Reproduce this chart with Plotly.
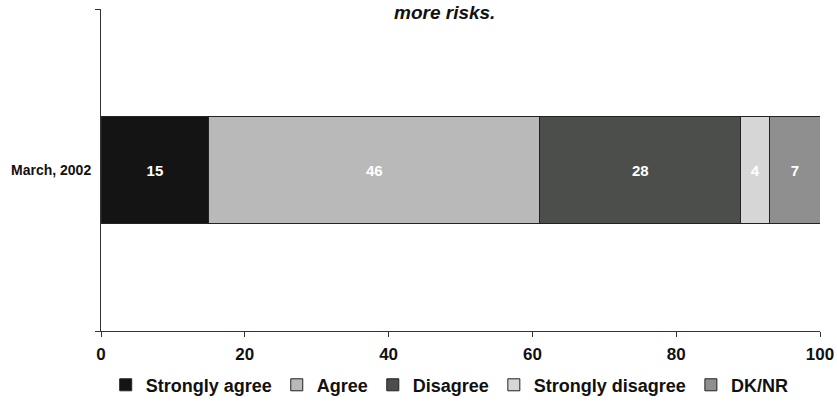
import plotly.graph_objects as go

categories = ["March, 2002"]
series_names = ["Strongly agree", "Agree", "Disagree", "Strongly disagree", "DK/NR"]
series_values = [[15], [46], [28], [4], [7]]
series_colors = ["#141414", "#b9b9b9", "#4b4e4b", "#d6d6d6", "#8f8f8f"]
x_ticks = [0, 20, 40, 60, 80, 100]
title_text = "more risks."

FONT = "Liberation Sans, Arial, sans-serif"

fig = go.Figure()
for name, vals, col in zip(series_names, series_values, series_colors):
    fig.add_trace(go.Bar(
        y=categories, x=vals, name=name, orientation="h",
        marker=dict(color=col, line=dict(color="#222222", width=1)),
        width=0.335,
        text=[str(v) for v in vals], textposition="inside",
        insidetextanchor="middle",
        textfont=dict(family=FONT, size=15, color="white", weight="bold"),
    ))

fig.update_layout(
    barmode="stack",
    width=837, height=415,
    margin=dict(l=101, r=17, t=9, b=84, autoexpand=False),
    paper_bgcolor="white", plot_bgcolor="white",
    font=dict(family=FONT, color="#111111"),
    uniformtext=dict(minsize=15, mode="show"),
    showlegend=True,
    legend=dict(
        orientation="h", x=0.485, xanchor="center", y=-0.168, yanchor="middle",
        font=dict(family=FONT, size=18, color="#111111", weight="bold"),
        itemwidth=30, traceorder="normal",
    ),
    xaxis=dict(
        range=[0, 100], tickvals=x_ticks, ticktext=[str(t) for t in x_ticks],
        showgrid=False, zeroline=False, showline=True, linecolor="#333333", linewidth=1,
        ticks="outside", ticklen=5, tickcolor="#333333", automargin=False,
        ticklabelstandoff=3,
        tickfont=dict(family=FONT, size=17, color="#111111", weight="bold"),
        fixedrange=True,
    ),
    yaxis=dict(
        type="category", range=[-0.5, 0.5],
        showgrid=False, zeroline=False, showline=True, linecolor="#333333", linewidth=1,
        ticks="outside", ticklen=5, tickcolor="#333333", tickson="boundaries",
        ticklabelstandoff=6, automargin=False,
        tickfont=dict(family=FONT, size=14, color="#111111", weight="bold"),
        fixedrange=True,
    ),
    annotations=[dict(
        text="<b><i>" + title_text + "</i></b>", xref="paper", yref="paper",
        x=0.478, y=1.028, xanchor="center", yanchor="top", showarrow=False,
        font=dict(family=FONT, size=19, color="#111111"),
    )],
)

fig.write_html("out.html", config={"displayModeBar": False, "staticPlot": True})

# remove the browser's default 8px body margin so the figure sits at the page origin
with open("out.html", "r", encoding="utf-8") as f:
    html = f.read()
html = html.replace("<head>", "<head><style>html,body{margin:0;padding:0;overflow:hidden;}</style>", 1)
with open("out.html", "w", encoding="utf-8") as f:
    f.write(html)
